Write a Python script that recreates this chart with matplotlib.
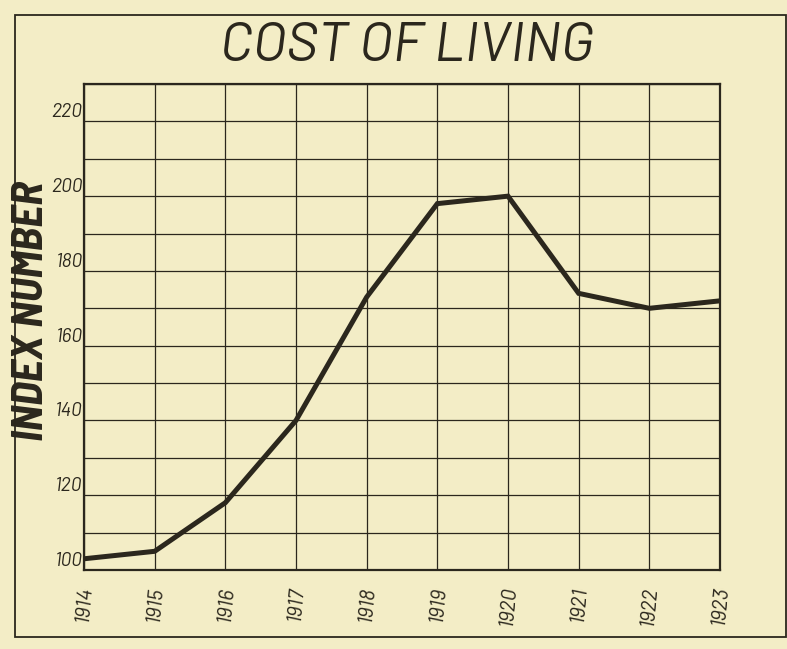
import matplotlib
matplotlib.use("Agg")
import matplotlib.pyplot as plt
import matplotlib.patches as patches

# data
years = [1914, 1915, 1916, 1917, 1918, 1919, 1920, 1921, 1922, 1923]
index_number = [103, 105, 118, 140, 173, 198, 200, 174, 170, 172]
y_ticks = [100, 120, 140, 160, 180, 200, 220]
y_grid = [110, 130, 150, 170, 190, 210, 230]

paper = "#f3edc6"
ink = "#2b271d"
hand = ["Barlow", "DejaVu Sans"]

fig = plt.figure(figsize=(7.87, 6.49), dpi=100)
fig.patch.set_facecolor(paper)

# outer frame of the page
frame = patches.Rectangle((15 / 787, 1 - 637 / 649), 771 / 787, 622 / 649,
                          transform=fig.transFigure, fill=False,
                          edgecolor=ink, linewidth=1.3)
fig.patches.append(frame)

ax = fig.add_axes([84 / 787, 1 - 570 / 649, 636 / 787, 486 / 649])
ax.set_facecolor(paper)

ax.plot(years, index_number, color=ink, linewidth=3.6,
        solid_joinstyle="miter", solid_capstyle="butt", zorder=3, clip_on=False)

ax.set_xlim(years[0], years[-1])
ax.set_ylim(100, 230)

ax.set_xticks(years)
ax.set_xticklabels([str(y) for y in years], rotation=85, fontsize=15,
                   style="italic", family=hand, color=ink)
ax.set_yticks(y_ticks)
ax.set_yticklabels([str(v) for v in y_ticks], fontsize=14, style="italic",
                   family=hand, color=ink)
for lab in ax.get_yticklabels():
    lab.set_verticalalignment("bottom")

ax.set_yticks(y_grid, minor=True)
ax.grid(True, which="major", color=ink, linewidth=0.9)
ax.grid(True, which="minor", axis="y", color=ink, linewidth=0.9)
ax.tick_params(which="both", length=0)
ax.tick_params(axis="y", pad=1)
ax.tick_params(axis="x", pad=11)

for s in ax.spines.values():
    s.set_color(ink)
    s.set_linewidth(1.6)

ax.set_ylabel("INDEX NUMBER", fontsize=32, style="italic", fontweight="bold",
              family=["Barlow Semi Condensed", "DejaVu Sans"], color=ink)
ax.yaxis.set_label_coords(-0.052, 0.533)

fig.text(0.517, 0.928, "COST OF LIVING", ha="center", va="center",
         fontsize=40, style="italic", family=hand, color=ink)

fig.savefig("out.png", dpi=100, facecolor=paper)
